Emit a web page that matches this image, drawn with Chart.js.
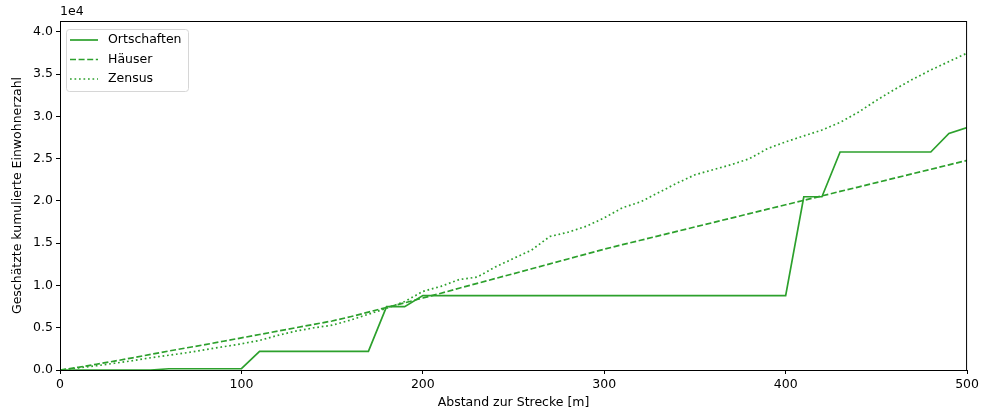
<!DOCTYPE html>
<html>
<head>
<meta charset="utf-8">
<script src="https://cdn.jsdelivr.net/npm/chart.js@4"></script>
<style>
  html, body { margin: 0; padding: 0; background: #fff; }
  #wrap { width: 982px; height: 413px; }
</style>
</head>
<body>
<div id="wrap"><canvas id="chart" width="982" height="413"></canvas></div>
<script>
// Distance to the line in metres (x values)
const distances = [0, 10, 20, 30, 40, 50, 60, 70, 80, 90, 100,
    110, 120, 130, 140, 150, 160, 170, 180, 190, 200,
    210, 220, 230, 240, 250, 260, 270, 280, 290, 300,
    310, 320, 330, 340, 350, 360, 370, 380, 390, 400,
    410, 420, 430, 440, 450, 460, 470, 480, 490, 500];

// Estimated cumulative population per method
const ortschaften = [0, 0, 0, 0, 0, 0, 150, 150, 150, 150, 150,
    2200, 2200, 2200, 2200, 2200, 2200, 2200, 7500, 7500, 8800,
    8800, 8800, 8800, 8800, 8800, 8800, 8800, 8800, 8800, 8800,
    8800, 8800, 8800, 8800, 8800, 8800, 8800, 8800, 8800, 8800,
    20500, 20500, 25800, 25800, 25800, 25800, 25800, 25800, 28000, 28700];

const haeuser = [0, 320, 680, 1050, 1440, 1850, 2250, 2630, 3000, 3400, 3800,
    4200, 4600, 5000, 5400, 5800, 6300, 6850, 7400, 7950, 8520,
    9080, 9680, 10250, 10830, 11400, 11980, 12560, 13140, 13720, 14300,
    14830, 15350, 15880, 16400, 16930, 17450, 17980, 18500, 19030, 19550,
    20080, 20600, 21130, 21650, 22180, 22700, 23230, 23750, 24280, 24800];

const zensus = [0, 250, 500, 800, 1100, 1450, 1750, 2050, 2400, 2750, 3100,
    3500, 4100, 4600, 5000, 5300, 5900, 6600, 7300, 8100, 9300,
    9900, 10700, 11000, 12200, 13200, 14200, 15800, 16300, 17000, 18000,
    19200, 19900, 21000, 22100, 23100, 23700, 24300, 25000, 26200, 27000,
    27700, 28400, 29300, 30500, 31900, 33200, 34400, 35500, 36500, 37500];

// Tick positions
const xTicks = [0, 100, 200, 300, 400, 500];
const yTicks = [0, 5000, 10000, 15000, 20000, 25000, 30000, 35000, 40000];

const GREEN = '#2ca02c';
const FONT = 'DejaVu Sans';
const FONT_SIZE = 12.5;

function toPoints(values) {
    return distances.map((d, i) => ({ x: d, y: values[i] }));
}

// Box around the plot, "1e4" offset text and the legend inside the plot
const framePlugin = {
    id: 'frame',
    afterDraw(chart) {
        const { ctx, chartArea: a } = chart;
        ctx.save();
        ctx.strokeStyle = '#000';
        ctx.lineWidth = 1;
        ctx.strokeRect(a.left + 0.5, a.top + 0.5, a.right - a.left - 1, a.bottom - a.top);

        ctx.fillStyle = '#000';
        ctx.font = FONT_SIZE + 'px "' + FONT + '"';
        ctx.textAlign = 'left';
        ctx.textBaseline = 'bottom';
        ctx.fillText('1e4', a.left, a.top - 3);

        // legend
        const bx = a.left + 6, by = a.top + 8, bw = 122, bh = 62;
        ctx.fillStyle = 'rgba(255,255,255,0.8)';
        ctx.strokeStyle = '#d6d6d6';
        ctx.beginPath();
        ctx.roundRect(bx + 0.5, by + 0.5, bw, bh, 3);
        ctx.fill();
        ctx.stroke();
        chart.data.datasets.forEach((ds, i) => {
            const y = by + 11 + i * 19.5;
            ctx.strokeStyle = ds.borderColor;
            ctx.lineWidth = ds.borderWidth;
            ctx.setLineDash(ds.borderDash || []);
            ctx.beginPath();
            ctx.moveTo(bx + 4, y);
            ctx.lineTo(bx + 32, y);
            ctx.stroke();
            ctx.setLineDash([]);
            ctx.fillStyle = '#000';
            ctx.textBaseline = 'middle';
            ctx.fillText(ds.label, bx + 42, y);
        });
        ctx.restore();
    }
};

const ctx = document.getElementById('chart').getContext('2d');
new Chart(ctx, {
    type: 'line',
    data: {
        datasets: [
            { label: 'Ortschaften', data: toPoints(ortschaften), borderColor: GREEN, borderWidth: 1.7, borderDash: [] },
            { label: 'Häuser', data: toPoints(haeuser), borderColor: GREEN, borderWidth: 1.7, borderDash: [6, 2.6] },
            { label: 'Zensus', data: toPoints(zensus), borderColor: GREEN, borderWidth: 1.7, borderDash: [1.7, 2.8] }
        ]
    },
    options: {
        responsive: false,
        animation: false,
        layout: { padding: { left: 0, right: 14, top: 21, bottom: 0 } },
        elements: { point: { radius: 0 }, line: { tension: 0 } },
        plugins: { legend: { display: false }, tooltip: { enabled: false } },
        scales: {
            x: {
                type: 'linear',
                min: 0,
                max: 500,
                afterBuildTicks: s => { s.ticks = xTicks.map(v => ({ value: v })); },
                afterFit: s => { s.height = 43; },
                grid: { display: true, drawOnChartArea: false, drawTicks: true, tickLength: 4, color: '#000' },
                border: { display: true, color: '#000' },
                ticks: { color: '#000', font: { family: FONT, size: FONT_SIZE }, padding: 3, maxRotation: 0, autoSkip: false },
                title: { display: true, text: 'Abstand zur Strecke [m]', color: '#000', font: { family: FONT, size: FONT_SIZE }, padding: { top: 0, bottom: 3 } }
            },
            y: {
                type: 'linear',
                min: 0,
                max: 41300,
                afterBuildTicks: s => { s.ticks = yTicks.map(v => ({ value: v })); },
                afterFit: s => { s.width = 60; },
                grid: { display: true, drawOnChartArea: false, drawTicks: true, tickLength: 4, color: '#000' },
                border: { display: true, color: '#000' },
                ticks: { color: '#000', font: { family: FONT, size: FONT_SIZE }, padding: 3, callback: v => (v / 10000).toFixed(1) },
                title: { display: true, text: 'Geschätzte kumulierte Einwohnerzahl', color: '#000', font: { family: FONT, size: FONT_SIZE }, padding: { top: 10, bottom: 0 } }
            }
        }
    },
    plugins: [framePlugin]
});
</script>
</body>
</html>
